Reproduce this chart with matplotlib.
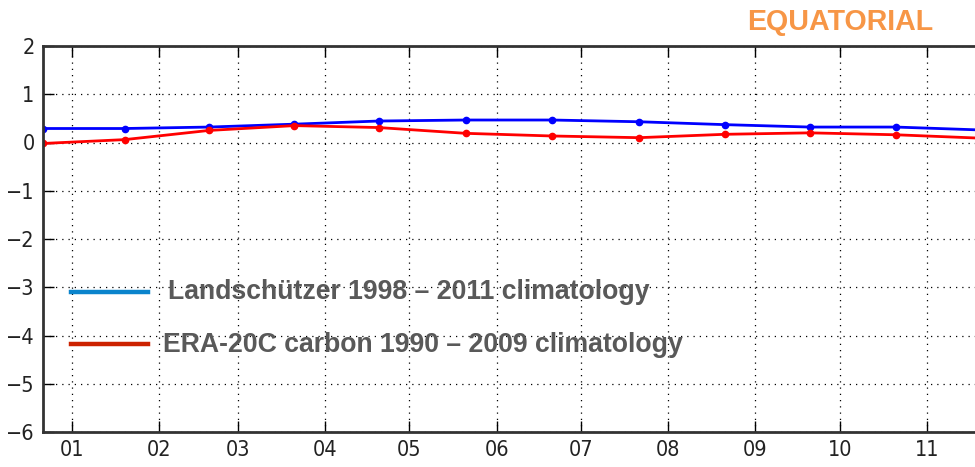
import matplotlib
matplotlib.use('Agg')
import matplotlib.pyplot as plt

# monthly climatology of air-sea CO2 flux, equatorial band
days = [-10.3, 18.8, 48.7, 79.1, 109.0, 140.0, 170.7, 201.6, 232.2, 262.4, 293.0, 323.0]
landschutzer = [0.29, 0.29, 0.32, 0.38, 0.445, 0.466, 0.466, 0.43, 0.37, 0.32, 0.32, 0.26]
era20c = [-0.02, 0.06, 0.25, 0.35, 0.31, 0.19, 0.135, 0.10, 0.17, 0.20, 0.16, 0.09]

month_starts = [0, 31, 59, 90, 120, 151, 181, 212, 243, 273, 304]
month_labels = ['01', '02', '03', '04', '05', '06', '07', '08', '09', '10', '11']
y_ticks = [2, 1, 0, -1, -2, -3, -4, -5, -6]

fig = plt.figure(figsize=(9.75, 4.67), dpi=100)
ax = fig.add_axes([43 / 975, 1 - 432 / 467, 934 / 975, 386 / 467])

ax.plot(days, landschutzer, color='b', marker='o', markersize=4.5,
        markeredgecolor='b', linewidth=2, clip_on=True)
ax.plot(days, era20c, color='r', marker='o', markersize=4.5,
        markeredgecolor='r', linewidth=2, clip_on=True)

ax.set_xlim(-10.3, 321.8)
ax.set_ylim(-6, 2)
ax.set_xticks(month_starts)
ax.set_xticklabels(month_labels)
ax.set_yticks(y_ticks)
ax.set_yticklabels([str(v).replace('-', '\u2212') for v in y_ticks])

ax.grid(True, color='black', linestyle=(0, (1, 4)), linewidth=0.9)
ax.tick_params(direction='in', length=8, width=1, top=True, right=False,
               labelsize=15.5, pad=6, colors='black')
for lab in ax.get_xticklabels() + ax.get_yticklabels():
    lab.set_fontfamily('DejaVu Sans')
    lab.set_fontstretch('condensed')
    lab.set_color('#222222')
for side in ['left', 'bottom', 'top']:
    ax.spines[side].set_linewidth(2)
    ax.spines[side].set_color('#333333')
ax.spines['right'].set_visible(False)

# hand-drawn legend over the lower part of the plot
legend_font = dict(family=['Liberation Sans', 'Arial', 'DejaVu Sans'],
                   fontweight='bold', fontsize=19.2, color='#595959')
fig.add_artist(plt.Line2D([71 / 975, 148 / 975], [1 - 291.5 / 467, 1 - 291.5 / 467],
                          color='#0a84cc', linewidth=3.2))
fig.add_artist(plt.Line2D([71 / 975, 148 / 975], [1 - 344 / 467, 1 - 344 / 467],
                          color='#cc2200', linewidth=3.2))
fig.text(168 / 975, 1 - 292 / 467, 'Landschützer 1998 – 2011 climatology',
         va='center', ha='left', **legend_font)
fig.text(163 / 975, 1 - 345 / 467, 'ERA-20C carbon 1990 – 2009 climatology',
         va='center', ha='left', **legend_font)

fig.text(933 / 975, 1 - 22 / 467, 'EQUATORIAL', ha='right', va='center',
         family=['Liberation Sans', 'Arial', 'DejaVu Sans'], fontweight='bold',
         fontsize=20.6, color='#f79646')

fig.savefig('out.png', dpi=100)
